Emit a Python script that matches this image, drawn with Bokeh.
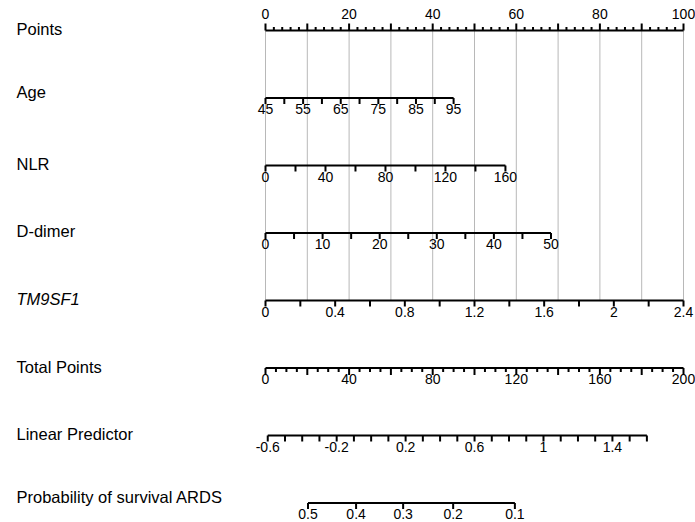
import math
from bokeh.plotting import figure
from bokeh.models import Range1d
from bokeh.core.properties import value
from bokeh.embed import file_html
from bokeh.resources import INLINE

# ---------------- data ----------------
ROW_NAMES = ["Points", "Age", "NLR", "D-dimer", "TM9SF1",
             "Total Points", "Linear Predictor", "Probability of survival ARDS"]

POINTS_RANGE = [0, 100]
POINTS_LABELS = [0, 20, 40, 60, 80, 100]
POINTS_MAJOR = [0, 10, 20, 30, 40, 50, 60, 70, 80, 90, 100]
POINTS_MINOR_STEP = 2

AGE_RANGE = [45, 95]
AGE_POINTS = [0, 45]
AGE_LABELS = [45, 55, 65, 75, 85, 95]
AGE_TICKS = [45, 50, 55, 60, 65, 70, 75, 80, 85, 90, 95]

NLR_RANGE = [0, 160]
NLR_POINTS = [0, 57.4]
NLR_LABELS = [0, 40, 80, 120, 160]
NLR_TICKS = [0, 20, 40, 60, 80, 100, 120, 140, 160]

DDIMER_RANGE = [0, 50]
DDIMER_POINTS = [0, 68.3]
DDIMER_LABELS = [0, 10, 20, 30, 40, 50]
DDIMER_TICKS = [0, 5, 10, 15, 20, 25, 30, 35, 40, 45, 50]

TM9SF1_RANGE = [0, 2.4]
TM9SF1_POINTS = [0, 100]
TM9SF1_LABELS = [0, 0.4, 0.8, 1.2, 1.6, 2, 2.4]
TM9SF1_TICKS = [0, 0.2, 0.4, 0.6, 0.8, 1.0, 1.2, 1.4, 1.6, 1.8, 2.0, 2.2, 2.4]

TOTAL_RANGE = [0, 200]
TOTAL_LABELS = [0, 40, 80, 120, 160, 200]
TOTAL_MAJOR = [0, 20, 40, 60, 80, 100, 120, 140, 160, 180, 200]
TOTAL_MINOR_STEP = 5

LP_RANGE = [-0.6, 1.6]
LP_LABELS = [-0.6, -0.2, 0.2, 0.6, 1, 1.4]
LP_TICK_STEP = 0.1
LP_AT_ZERO_POINTS = -0.613
POINTS_PER_LP = 82.46

PROB_LABELS = [0.5, 0.4, 0.3, 0.2, 0.1]

# ---------------- layout ----------------
W, H = 695, 522
PAGE_LEFT, PAGE_TOP = 0, 0
X0_PAGE, SCALE = 265.0, 4.18          # page x of 0 points, px per point
XS = -(X0_PAGE - PAGE_LEFT) / SCALE
XE = XS + W / SCALE
ROW0, ROW_STEP = 30.0, 67.5
ROW_Y = [ROW0 + ROW_STEP * i for i in range(len(ROW_NAMES))]
NAME_DY = [-2, -6.5, -2, -2.5, -2, -1.5, -1.5, -6]

FONT = "Liberation Sans"
NAME_SIZE = "16.5px"
TICK_SIZE = "14px"


def px_to_x(page_x):
    return XS + (page_x - PAGE_LEFT) / SCALE


def var_x(v, rng, pts):
    return pts[0] + (v - rng[0]) / (rng[1] - rng[0]) * (pts[1] - pts[0])


def total_x(t):
    return var_x(t, TOTAL_RANGE, POINTS_RANGE)


def lp_x(lp):
    return total_x((lp - LP_AT_ZERO_POINTS) * POINTS_PER_LP)


def prob_x(p):
    return lp_x(math.log(-math.log(p)))


def fmt(v):
    return f"{v:g}"


p = figure(width=W, height=H, output_backend="svg", toolbar_location=None,
           x_range=Range1d(XS, XE), y_range=Range1d(PAGE_TOP + H, PAGE_TOP),
           min_border=0, outline_line_color=None)
p.axis.visible = False
p.grid.visible = False

# grid lines from Points down to TM9SF1
p.segment(x0=POINTS_MAJOR, y0=[ROW_Y[0]] * len(POINTS_MAJOR),
          x1=POINTS_MAJOR, y1=[ROW_Y[4]] * len(POINTS_MAJOR),
          line_color="#b8b8b8", line_width=1)

segs = {"x0": [], "y0": [], "x1": [], "y1": []}


def seg(xa, ya, xb, yb):
    segs["x0"].append(xa); segs["y0"].append(ya)
    segs["x1"].append(xb); segs["y1"].append(yb)


texts = {"x": [], "y": [], "t": []}


def lab(x, y, t):
    texts["x"].append(x); texts["y"].append(y); texts["t"].append(t)


TICK_LEN = 6
LABEL_DY = 11

# Points axis (ticks upward, labels above)
y = ROW_Y[0]
seg(0, y, 100, y)
for v in POINTS_MAJOR:
    seg(v, y, v, y - 7)
for v in range(0, 101, POINTS_MINOR_STEP):
    if v not in POINTS_MAJOR:
        seg(v, y, v, y - 3.5)
for v in POINTS_LABELS:
    lab(v, y - 16.5, fmt(v))

# variable axes
for row, rng, pts, ticks, labels in [
    (1, AGE_RANGE, AGE_POINTS, AGE_TICKS, AGE_LABELS),
    (2, NLR_RANGE, NLR_POINTS, NLR_TICKS, NLR_LABELS),
    (3, DDIMER_RANGE, DDIMER_POINTS, DDIMER_TICKS, DDIMER_LABELS),
    (4, TM9SF1_RANGE, TM9SF1_POINTS, TM9SF1_TICKS, TM9SF1_LABELS),
]:
    y = ROW_Y[row]
    seg(var_x(rng[0], rng, pts), y, var_x(rng[1], rng, pts), y)
    for v in ticks:
        xv = var_x(v, rng, pts)
        seg(xv, y, xv, y + TICK_LEN)
    for v in labels:
        lab(var_x(v, rng, pts), y + LABEL_DY, fmt(v))

# Total points
y = ROW_Y[5]
seg(total_x(TOTAL_RANGE[0]), y, total_x(TOTAL_RANGE[1]), y)
for v in TOTAL_MAJOR:
    seg(total_x(v), y, total_x(v), y + 7)
for v in range(TOTAL_RANGE[0], TOTAL_RANGE[1] + 1, TOTAL_MINOR_STEP):
    if v not in TOTAL_MAJOR:
        seg(total_x(v), y, total_x(v), y + 4)
for v in TOTAL_LABELS:
    lab(total_x(v), y + LABEL_DY, fmt(v))

# Linear predictor
y = ROW_Y[6]
seg(lp_x(LP_RANGE[0]), y, lp_x(LP_RANGE[1]), y)
n = int(round((LP_RANGE[1] - LP_RANGE[0]) / LP_TICK_STEP))
for i in range(n + 1):
    v = LP_RANGE[0] + i * LP_TICK_STEP
    seg(lp_x(v), y, lp_x(v), y + TICK_LEN)
for v in LP_LABELS:
    lab(lp_x(v), y + LABEL_DY, fmt(v))

# Probability
y = ROW_Y[7]
seg(prob_x(PROB_LABELS[0]), y, prob_x(PROB_LABELS[-1]), y)
for v in PROB_LABELS:
    seg(prob_x(v), y, prob_x(v), y + TICK_LEN)
    lab(prob_x(v), y + LABEL_DY, fmt(v))

p.segment(x0="x0", y0="y0", x1="x1", y1="y1", source=segs,
          line_color="black", line_width=2)

p.text(x="x", y="y", text="t", source=texts, text_font=value(FONT),
       text_font_size=value(TICK_SIZE), text_align="center",
       text_baseline="middle", text_color="black")

# row names
name_x = px_to_x(16)
normal = [i for i in range(len(ROW_NAMES)) if ROW_NAMES[i] != "TM9SF1"]
p.text(x=[name_x] * len(normal), y=[ROW_Y[i] + NAME_DY[i] for i in normal],
       text=[ROW_NAMES[i] for i in normal], text_font=value(FONT),
       text_font_size=value(NAME_SIZE), text_align="left",
       text_baseline="middle", text_color="black")
p.text(x=[name_x], y=[ROW_Y[4] + NAME_DY[4]], text=["TM9SF1"],
       text_font=value(FONT), text_font_size=value(NAME_SIZE),
       text_font_style="italic", text_align="left",
       text_baseline="middle", text_color="black")

open("out.html", "w").write(file_html(p, INLINE))
